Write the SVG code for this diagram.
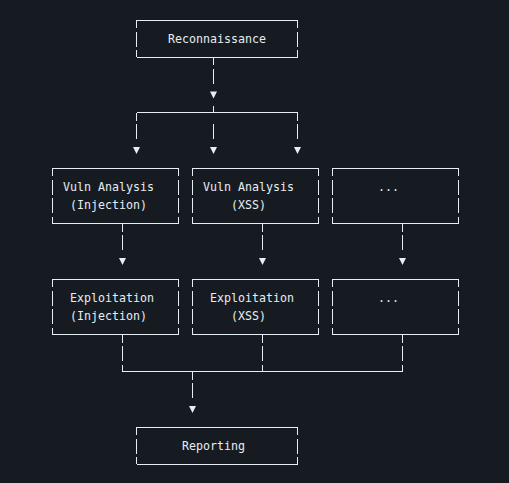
<svg xmlns="http://www.w3.org/2000/svg" width="509" height="483" viewBox="0 0 509 483">
<style>
.ln{fill:none;stroke:#e6edf3;stroke-width:1;shape-rendering:crispEdges}
.tx{font-family:"DejaVu Sans Mono","Liberation Mono",monospace;font-size:11.63px;fill:#e6edf3}
.ar{fill:#e6edf3}
</style>
<defs>
<path id="box3" d="M0 0H161M0 37H161M0 0V8M0 11.5V26.5M0 30V37M161 0V8M161 11.5V26.5M161 30V37"/>
<path id="box4" d="M0 0H126M0 55.5H126M0 0V8M0 11.5V26.5M0 30V45M0 48.5V55.5M126 0V8M126 11.5V26.5M126 30V45M126 48.5V55.5"/>
<polygon id="tri" points="-3.5,-2.5 3.5,-2.5 0,4.5"/>
</defs>
<rect width="509" height="483" fill="#161b22"/>
<g id="recon">
<use href="#box3" class="ln" x="136.5" y="20"/>
<text class="tx" x="168" y="42.8">Reconnaissance</text>
</g>
<g id="vuln-injection">
<use href="#box4" class="ln" x="52.5" y="168"/>
<text class="tx" x="63" y="190.8">Vuln Analysis</text>
<text class="tx" x="70" y="209.3">(Injection)</text>
</g>
<g id="vuln-xss">
<use href="#box4" class="ln" x="192.5" y="168"/>
<text class="tx" x="203" y="190.8">Vuln Analysis</text>
<text class="tx" x="231" y="209.3">(XSS)</text>
</g>
<g id="vuln-more">
<use href="#box4" class="ln" x="332.5" y="168"/>
<text class="tx" x="378" y="190.8">...</text>
</g>
<g id="exploit-injection">
<use href="#box4" class="ln" x="52.5" y="279"/>
<text class="tx" x="70" y="301.8">Exploitation</text>
<text class="tx" x="70" y="320.3">(Injection)</text>
</g>
<g id="exploit-xss">
<use href="#box4" class="ln" x="192.5" y="279"/>
<text class="tx" x="210" y="301.8">Exploitation</text>
<text class="tx" x="231" y="320.3">(XSS)</text>
</g>
<g id="exploit-more">
<use href="#box4" class="ln" x="332.5" y="279"/>
<text class="tx" x="378" y="301.8">...</text>
</g>
<g id="reporting">
<use href="#box3" class="ln" x="136.5" y="427"/>
<text class="tx" x="182" y="449.8">Reporting</text>
</g>
<g id="connectors">
<path class="ln" d="M213.5 57V65M213.5 68.5V83.5M213.5 105.5V112.5M136.5 112.5H297.5M136.5 112.5V120.5M297.5 112.5V120.5M136.5 124V139M213.5 124V139M297.5 124V139"/>
<path class="ln" d="M122.5 223.5V231.5M122.5 235V250M262.5 223.5V231.5M262.5 235V250M402.5 223.5V231.5M402.5 235V250"/>
<path class="ln" d="M122.5 334.5V342.5M122.5 346V361M122.5 364.5V371.5M262.5 334.5V342.5M262.5 346V361M262.5 364.5V371.5M402.5 334.5V342.5M402.5 346V361M402.5 364.5V371.5M122.5 371.5H402.5M192.5 371.5V379.5M192.5 383V398"/>
<g class="ar">
<use href="#tri" x="213.5" y="94"/>
<use href="#tri" x="136.5" y="149.5"/>
<use href="#tri" x="213.5" y="149.5"/>
<use href="#tri" x="297.5" y="149.5"/>
<use href="#tri" x="122.5" y="260.5"/>
<use href="#tri" x="262.5" y="260.5"/>
<use href="#tri" x="402.5" y="260.5"/>
<use href="#tri" x="192.5" y="408.5"/>
</g>
</g>
</svg>
